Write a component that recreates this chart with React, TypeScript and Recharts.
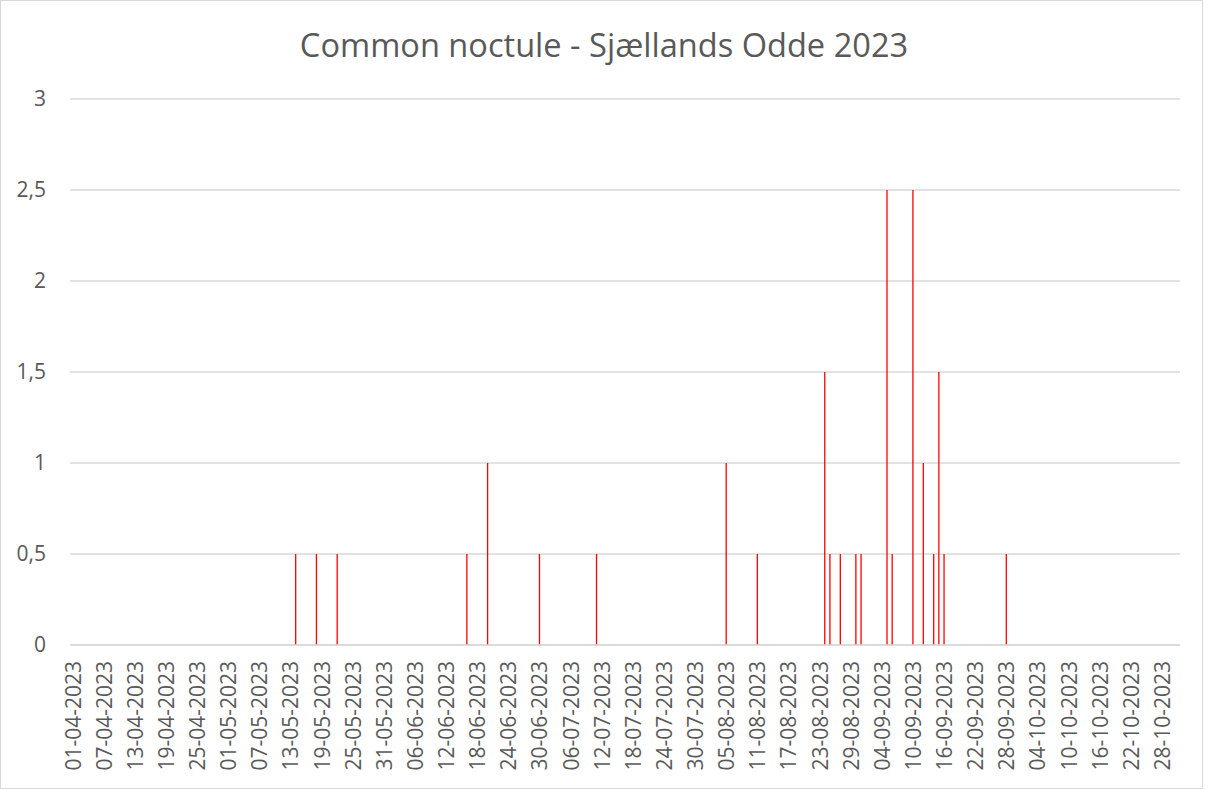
import { BarChart, Bar, XAxis, YAxis, CartesianGrid } from "recharts";

// nights with recorded passes (date, value)
const obsDates = [
  "13-05-2023", "17-05-2023", "21-05-2023", "15-06-2023", "19-06-2023", "29-06-2023",
  "10-07-2023", "04-08-2023", "10-08-2023", "23-08-2023", "24-08-2023", "26-08-2023",
  "29-08-2023", "30-08-2023", "04-09-2023", "05-09-2023", "09-09-2023", "11-09-2023",
  "13-09-2023", "14-09-2023", "15-09-2023", "27-09-2023",
];
const obsValues = [
  0.5, 0.5, 0.5, 0.5, 1, 0.5,
  0.5, 1, 0.5, 1.5, 0.5, 0.5,
  0.5, 0.5, 2.5, 0.5, 2.5, 1,
  0.5, 1.5, 0.5, 0.5,
];

const xTicks = [
  "01-04-2023", "07-04-2023", "13-04-2023", "19-04-2023", "25-04-2023", "01-05-2023",
  "07-05-2023", "13-05-2023", "19-05-2023", "25-05-2023", "31-05-2023", "06-06-2023",
  "12-06-2023", "18-06-2023", "24-06-2023", "30-06-2023", "06-07-2023", "12-07-2023",
  "18-07-2023", "24-07-2023", "30-07-2023", "05-08-2023", "11-08-2023", "17-08-2023",
  "23-08-2023", "29-08-2023", "04-09-2023", "10-09-2023", "16-09-2023", "22-09-2023",
  "28-09-2023", "04-10-2023", "10-10-2023", "16-10-2023", "22-10-2023", "28-10-2023",
];
const yTicks = [0, 0.5, 1, 1.5, 2, 2.5, 3];

const FIRST_DAY = Date.UTC(2023, 2, 31);
const DAY_COUNT = 214;

const pad = (n: number) => String(n).padStart(2, "0");
const fmt = (t: number) => {
  const d = new Date(t);
  return `${pad(d.getUTCDate())}-${pad(d.getUTCMonth() + 1)}-${d.getUTCFullYear()}`;
};

const data = Array.from({ length: DAY_COUNT }, (_, i) => {
  const date = fmt(FIRST_DAY + i * 86400000);
  const k = obsDates.indexOf(date);
  return { date, value: k >= 0 ? obsValues[k] : 0 };
});

const FONT = "'Open Sans', sans-serif";
const GREY = "#595959";

// labels sit a little left of the day's bar, like the excel date axis
const DateTick = ({ x, y, payload }: any) => {
  const tx = x - 4.5;
  return (
    <text
      x={tx}
      y={y}
      dy="0.35em"
      transform={`rotate(-90, ${tx}, ${y})`}
      textAnchor="end"
      fill={GREY}
      fontSize={21}
      fontFamily={FONT}
    >
      {payload.value}
    </text>
  );
};

export default function App() {
  return (
    <div style={{ position: "absolute", left: 0, top: 0, width: 1203, height: 789, background: "#fff" }}>
      <BarChart
        width={1203}
        height={789}
        data={data}
        margin={{ top: 99, right: 23, bottom: 4, left: 0 }}
        barCategoryGap={0}
      >
        <CartesianGrid vertical={false} stroke="#d9d9d9" strokeWidth={1.5} />
        <XAxis
          dataKey="date"
          ticks={xTicks}
          interval={0}
          height={140}
          tickSize={0}
          tickMargin={16}
          tickLine={false}
          axisLine={{ stroke: "#d9d9d9", strokeWidth: 1.5 }}
          tick={<DateTick />}
        />
        <YAxis
          domain={[0, 3]}
          ticks={yTicks}
          width={70}
          tickSize={0}
          tickMargin={24}
          axisLine={false}
          tickLine={false}
          tickFormatter={(v: number) => String(v).replace(".", ",")}
          tick={{ fill: GREY, fontSize: 21, fontFamily: FONT }}
        />
        <Bar dataKey="value" fill="#ff0000" barSize={1.3} isAnimationActive={false} />
      </BarChart>
      <svg width={1203} height={789} style={{ position: "absolute", left: 0, top: 0, pointerEvents: "none" }}>
        <text x={604} y={57} textAnchor="middle" fill={GREY} fontSize={32.6} fontFamily={FONT}>
          Common noctule - Sjællands Odde 2023
        </text>
        <rect x={0.5} y={0.5} width={1202} height={788} fill="none" stroke="#d9d9d9" strokeWidth={1} />
      </svg>
    </div>
  );
}
